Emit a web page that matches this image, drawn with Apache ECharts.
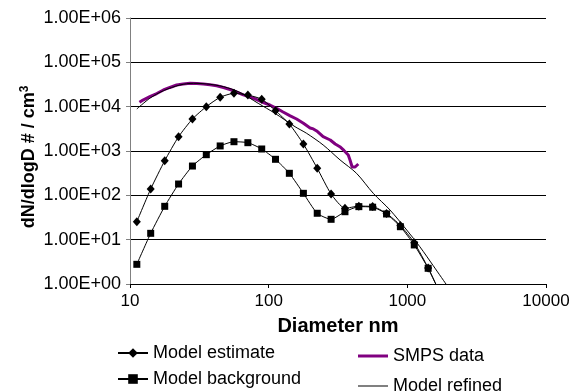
<!DOCTYPE html>
<html><head><meta charset="utf-8">
<script src="https://cdn.jsdelivr.net/npm/echarts@6/dist/echarts.min.js"></script>
<style>html,body{margin:0;padding:0;background:#fff}#c{width:584px;height:392px}</style>
</head><body><div id="c"></div>
<script>
// Diameters (nm) of the model estimate / background points
const modelDiameters = [11.2, 14.1, 17.8, 22.4, 28.2, 35.5, 44.7, 56.2, 70.8, 89.1, 112, 141, 178, 224, 282, 355, 447, 562, 708, 891, 1122, 1413, 1778];
const modelEstimate = [25.4, 139, 604, 2100, 5270, 10000, 16300, 20000, 18300, 14700, 8100, 4060, 1440, 408, 107, 51, 57, 56, 39, 21, 8.5, 2.3, 0.5];
const modelBackground = [2.78, 13.9, 56.5, 180, 458, 826, 1300, 1620, 1540, 1110, 650, 314, 111, 39.4, 28.8, 42.7, 55.6, 54, 38, 19.6, 7.6, 2.26, 0.5];

// Model refined curve
const refinedDiameters = [11.2, 13.9, 17.4, 22.9, 28.6, 35.8, 47.2, 62, 84, 111, 155, 188, 247, 327, 430, 568, 750, 990, 1232, 1536, 1921];
const refinedValues = [8870, 15460, 22900, 30800, 33700, 32500, 28300, 21000, 11900, 7080, 3530, 2500, 1370, 630, 314, 111, 46.7, 16.5, 6.9, 2.6, 0.95];

// SMPS measured data
const smpsDiameters = [11.7, 12.4, 13.9, 15.6, 17.4, 19.4, 21.7, 24.2, 27.1, 30.3, 33.8, 37.8, 42.2, 47.2, 52.7, 58.8, 65.7, 73.4, 82, 91.5, 102, 114, 127, 143, 159, 178, 199, 210, 222, 247, 278, 302, 326, 349, 375, 386, 400, 420, 443];
const smpsValues = [12550, 14100, 16800, 19800, 23800, 27100, 30800, 32400, 33700, 33300, 32500, 31300, 29700, 27100, 24400, 21400, 18500, 16500, 14500, 12400, 10900, 9190, 7580, 6220, 5270, 4220, 3300, 3150, 2830, 2100, 1770, 1440, 1250, 1030, 813, 627, 436, 436, 509];

// Tick labels
const yTickLabels = ['1.00E+00', '1.00E+01', '1.00E+02', '1.00E+03', '1.00E+04', '1.00E+05', '1.00E+06'];
const xTickLabels = ['10', '100', '1000', '10000'];

const zip = (a, b) => a.map((v, i) => [v, b[i]]);
const FONT = 'Liberation Sans';

const chart = echarts.init(document.getElementById('c'), null, {renderer: 'canvas'});
const legendBase = {
  orient: 'vertical', itemWidth: 30, itemHeight: 12, padding: 0,
  textStyle: {fontFamily: FONT, fontSize: 18, color: '#000'}
};
chart.setOption({
  animation: false,
  backgroundColor: '#fff',
  textStyle: {fontFamily: FONT},
  grid: {left: 130, right: 38, top: 18, bottom: 108, containLabel: false},
  legend: [
    Object.assign({}, legendBase, {data: ['Model estimate'], left: 117, top: 344}),
    Object.assign({}, legendBase, {data: ['Model background'], left: 117, top: 370}),
    Object.assign({}, legendBase, {itemHeight: 3, data: [{name: 'SMPS data', icon: 'path://M0,0H30V3H0Z'}], left: 358, top: 347}),
    Object.assign({}, legendBase, {itemHeight: 1, data: [{name: 'Model refined', icon: 'path://M0,0H30V1H0Z'}], left: 358, top: 377})
  ],
  graphic: [{
    type: 'text', x: 29, y: 157, rotation: Math.PI / 2,
    style: {
      text: '{a|dN/dlogD # / cm}{s|3}', align: 'center', verticalAlign: 'middle',
      rich: {
        a: {fontFamily: FONT, fontSize: 18, fontWeight: 'bold', fill: '#000'},
        s: {fontFamily: FONT, fontSize: 12, fontWeight: 'bold', fill: '#000', padding: [0, 0, 9, 0]}
      }
    }
  }],
  xAxis: {
    type: 'log', logBase: 10, min: 10, max: 10000,
    name: 'Diameter nm', nameLocation: 'middle', nameGap: 32,
    nameTextStyle: {fontFamily: FONT, fontSize: 20, fontWeight: 'bold', color: '#000'},
    axisLine: {lineStyle: {color: '#000', width: 1}},
    axisTick: {show: true, length: 4, lineStyle: {color: '#000'}},
    minorTick: {show: false},
    splitLine: {show: false},
    axisLabel: {
      fontFamily: FONT, fontSize: 17, color: '#000', margin: 9,
      formatter: v => xTickLabels[Math.round(Math.log10(v)) - 1]
    }
  },
  yAxis: {
    type: 'log', logBase: 10, min: 1, max: 1000000, interval: 1,
    axisLine: {show: true, lineStyle: {color: '#808080', width: 1}},
    axisTick: {show: true, length: 4, lineStyle: {color: '#808080'}},
    splitLine: {show: true, lineStyle: {color: '#000', width: 1}},
    axisLabel: {
      fontFamily: FONT, fontSize: 18, color: '#000', margin: 9,
      formatter: v => yTickLabels[Math.round(Math.log10(v))]
    }
  },
  series: [
    {
      name: 'Model estimate', type: 'line', data: zip(modelDiameters, modelEstimate),
      symbol: 'diamond', symbolSize: [8, 9], smooth: 0.2,
      itemStyle: {color: '#000'}, lineStyle: {color: '#000', width: 1}, z: 3
    },
    {
      name: 'Model background', type: 'line', data: zip(modelDiameters, modelBackground),
      symbol: 'rect', symbolSize: 7, smooth: 0.2,
      itemStyle: {color: '#000'}, lineStyle: {color: '#000', width: 1}, z: 3
    },
    {
      name: 'SMPS data', type: 'line', data: zip(smpsDiameters, smpsValues),
      symbol: 'none', smooth: false,
      itemStyle: {color: '#800080'}, lineStyle: {color: '#800080', width: 3}, z: 2
    },
    {
      name: 'Model refined', type: 'line', data: zip(refinedDiameters, refinedValues),
      symbol: 'none', smooth: 0.3,
      itemStyle: {color: '#000'}, lineStyle: {color: '#000', width: 1}, z: 4
    }
  ]
});
</script></body></html>
